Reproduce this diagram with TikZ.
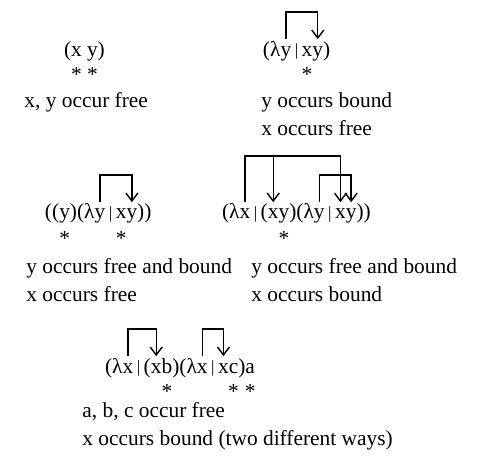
\documentclass[tikz,border=0pt]{standalone}
\usepackage{fontspec}
\setmainfont{Liberation Serif}
\usetikzlibrary{arrows.meta}
\newcommand{\lsep}{\,\raisebox{0.1ex}{\fontsize{8.5}{8.5}\selectfont|}\,}
\tikzset{
  tok/.style={inner sep=0pt,outer sep=0pt,anchor=base west,font=\fontsize{10.7}{14.25}\selectfont},
  occ/.style={inner sep=0pt,outer sep=0pt,anchor=base,font=\fontsize{10.7}{14.25}\selectfont},
  note/.style={inner sep=0pt,anchor=north west,align=left,font=\fontsize{10.7}{14.25}\selectfont},
  bind/.style={-{Straight Barb[length=4pt,width=6pt]},draw=black,line width=0.7pt}
}

\begin{document}
\begin{tikzpicture}[x=0.5pt,y=-0.5pt]
\useasboundingbox (0,0) rectangle (478,466);
% (x y)
\node[tok] (a1) at (64,56) {(};
\node[tok] (a2) at (a1.base east) {x};
\node[tok] (a3) at ([xshift=2.6pt]a2.base east) {y};
\node[tok] (a4) at (a3.base east) {)};
\node[occ] (a5) at ([yshift=-13pt]a2.base) {*};
\node[occ] (a6) at ([yshift=-13pt]a3.base) {*};
\node[note] (a7) at (24,92) {x, y occur free};
% (λy|xy)
\node[tok] (b1) at (263,56) {(λ};
\node[tok] (b2) at (b1.base east) {y};
\node[tok] (b3) at (b2.base east) {\lsep};
\node[tok] (b4) at (b3.base east) {x};
\node[tok] (b5) at (b4.base east) {y};
\node[tok] (b6) at (b5.base east) {)};
\node[occ] (b7) at ([yshift=-13pt]b4.base) {*};
\node[note] (b8) at (261,92) {y occurs bound\\x occurs free};
\draw[bind] ([yshift=3.5pt]b2.north) -- ++(0,-27) -| ([yshift=3.5pt]b5.north);
% ((y)(λy|xy))
\node[tok] (c1) at (45,219) {((};
\node[tok] (c2) at (c1.base east) {y};
\node[tok] (c3) at (c2.base east) {)(λ};
\node[tok] (c4) at (c3.base east) {y};
\node[tok] (c5) at (c4.base east) {\lsep};
\node[tok] (c6) at (c5.base east) {x};
\node[tok] (c7) at (c6.base east) {y};
\node[tok] (c8) at (c7.base east) {))};
\node[occ] (c9) at ([yshift=-13pt]c2.base) {*};
\node[occ] (c10) at ([yshift=-13pt]c6.base) {*};
\node[note] (c11) at (26,258) {y occurs free and bound\\x occurs free};
\draw[bind] ([yshift=3.5pt]c4.north) -- ++(0,-27) -| ([yshift=3.5pt]c7.north);
% (λx|(xy)(λy|xy))
\node[tok] (d1) at (222,219) {(λ};
\node[tok] (d2) at (d1.base east) {x};
\node[tok] (d3) at (d2.base east) {\lsep};
\node[tok] (d4) at (d3.base east) {(};
\node[tok] (d5) at (d4.base east) {x};
\node[tok] (d6) at (d5.base east) {y};
\node[tok] (d7) at (d6.base east) {)(λ};
\node[tok] (d8) at (d7.base east) {y};
\node[tok] (d9) at (d8.base east) {\lsep};
\node[tok] (d10) at (d9.base east) {x};
\node[tok] (d11) at (d10.base east) {y};
\node[tok] (d12) at (d11.base east) {))};
\node[occ] (d13) at ([yshift=-13pt]d6.base) {*};
\node[note] (d14) at (251,258) {y occurs free and bound\\x occurs bound};
\draw[bind] ([yshift=3.5pt]d2.north) -- ++(0,-46) coordinate (d15) -| ([yshift=3.5pt]d10.north);
\draw[bind] (d15 -| d5.north) -- ([yshift=3.5pt]d5.north);
\draw[bind] ([yshift=3.5pt]d8.north) -- ++(0,-27) -| ([yshift=3.5pt]d11.north);
% (λx|(xb)(λx|xc)a
\node[tok] (e1) at (105,373) {(λ};
\node[tok] (e2) at (e1.base east) {x};
\node[tok] (e3) at (e2.base east) {\lsep};
\node[tok] (e4) at (e3.base east) {(};
\node[tok] (e5) at (e4.base east) {x};
\node[tok] (e6) at (e5.base east) {b};
\node[tok] (e7) at (e6.base east) {)(λ};
\node[tok] (e8) at (e7.base east) {x};
\node[tok] (e9) at (e8.base east) {\lsep};
\node[tok] (e10) at (e9.base east) {x};
\node[tok] (e11) at (e10.base east) {c};
\node[tok] (e12) at (e11.base east) {)};
\node[tok] (e13) at (e12.base east) {a};
\node[occ] (e14) at ([yshift=-13pt]e6.base) {*};
\node[occ] (e15) at ([yshift=-13pt]e11.base) {*};
\node[occ] (e16) at ([yshift=-13pt]e13.base) {*};
\node[note] (e17) at (82,402) {a, b, c occur free\\x occurs bound (two different ways)};
\draw[bind] ([yshift=3.5pt]e2.north) -- ++(0,-27) -| ([yshift=3.5pt]e5.north);
\draw[bind] ([yshift=3.5pt]e8.north) -- ++(0,-27) -| ([yshift=3.5pt]e10.north);
\end{tikzpicture}
\end{document}
